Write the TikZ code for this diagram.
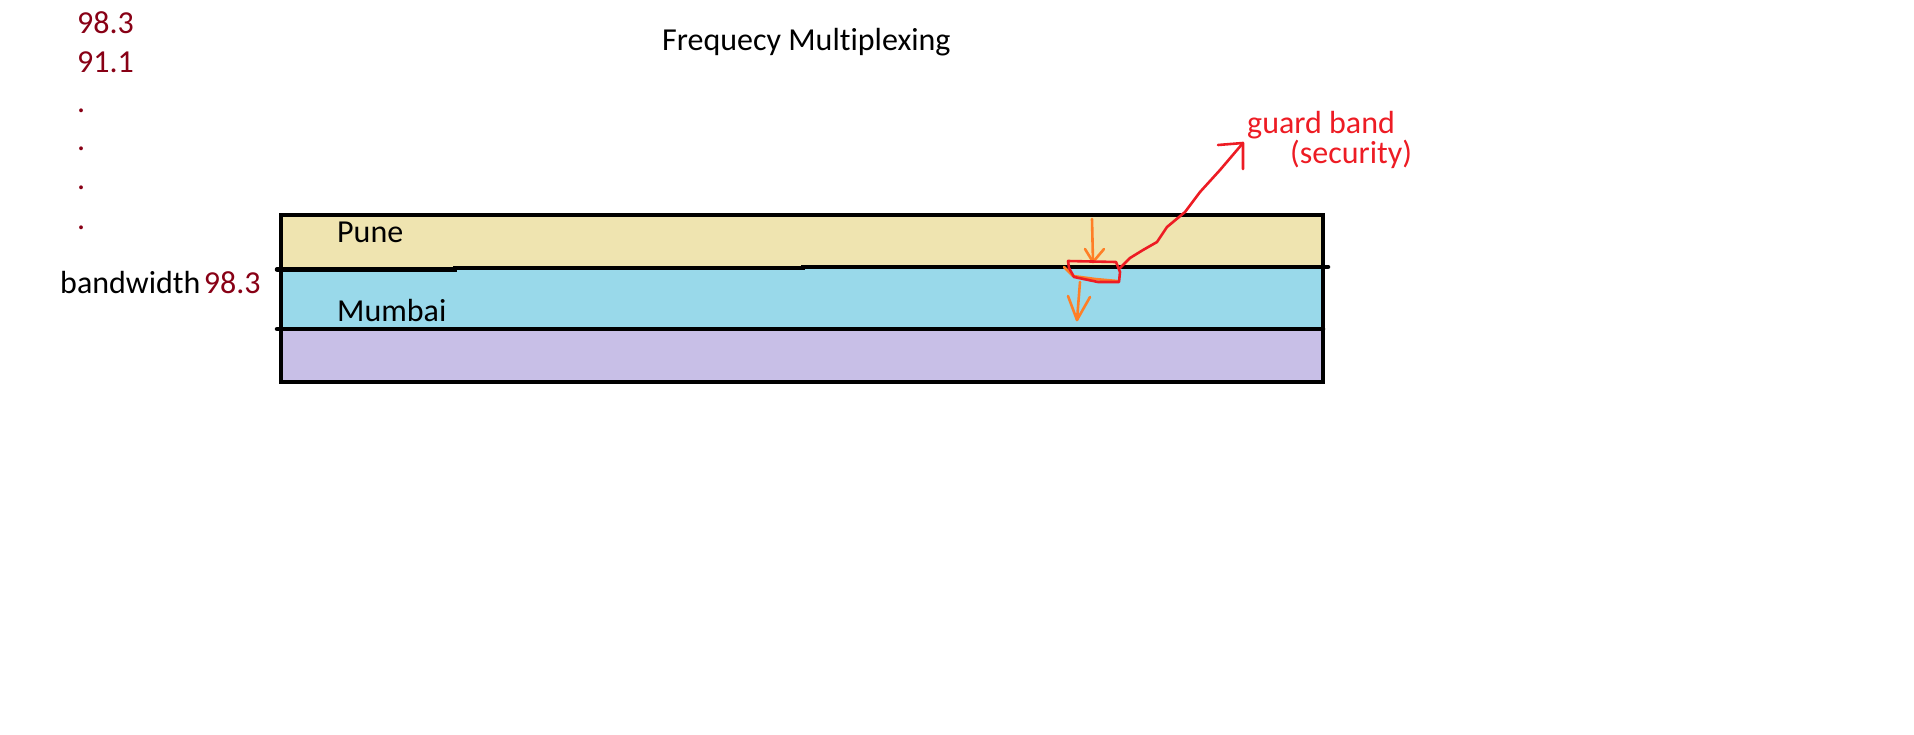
\documentclass[tikz,border=0pt]{standalone}
\usepackage{fontspec}
\setmainfont{Carlito}[Ligatures=NoCommon]
\usetikzlibrary{positioning}
\definecolor{bandtan}{RGB}{239,228,176}
\definecolor{bandblue}{RGB}{153,217,234}
\definecolor{bandlilac}{RGB}{200,191,231}
\definecolor{freqred}{RGB}{136,0,21}
\definecolor{paintred}{RGB}{237,28,36}
\definecolor{paintorange}{RGB}{255,127,39}
\begin{document}
\begin{tikzpicture}[x=1pt,y=-1pt,font=\fontsize{32}{38}\selectfont,inner sep=0pt,
  txt/.style={anchor=base west},
  freq/.style={txt,text=freqred},
  bandline/.style={line width=4.5pt,line cap=round},
  pen/.style={line width=2.6pt,line cap=round,line join=round}]
\useasboundingbox (0,0) rectangle (1914,734);
  \fill[bandtan] (281,215) rectangle (1323,268);
  \fill[bandblue] (281,268) rectangle (1323,329);
  \fill[bandlilac] (281,329) rectangle (1323,382);
  \draw[bandline] (281,215) rectangle (1323,382);
  \draw[bandline] (277,269.5) -- (455,269.5) -- (455,268) -- (803,268) -- (803,267) -- (1328,267);
  \draw[bandline] (277,329) -- (1323,329);
\node[txt] (title) at (662,50) {Frequecy Multiplexing};
\node[freq] (f1) at (77,33) {98.3};
\node[freq] (f2) at (77,72) {91.1};
\foreach \y [count=\i] in {112,150,189,229}
  \node[freq] (d\i) at (77,\y) {.};
\node[txt] (bw) at (60,293) {bandwidth};
\node[freq,base right=3pt of bw] (bwval) {98.3};
\node[txt] (pune) at (337,242) {Pune};
\node[txt] (mumbai) at (337,321) {Mumbai};
\node[txt,text=paintred] (guard) at (1247,133) {guard band};
\node[txt,text=paintred] (sec) at (1290,163) {(security)};
\coordinate (o1top) at (1092,219);
\coordinate (o1tip) at (1093,262);
\coordinate (o2top) at (1080,282);
\coordinate (o2tip) at (1077,320);
\coordinate (gbfoot) at (1120,268);
\coordinate (gbtip) at (1243,143);
  \draw[pen,paintorange] (o1top) -- (o1tip);
  \draw[pen,paintorange] (1085,249) -- (o1tip) -- (1104,249);
  \draw[pen,paintorange] (1064,267) -- (1073,276) -- (1095,279) -- (1117,281);
  \draw[pen,paintorange] (o2top) -- (o2tip);
  \draw[pen,paintorange] (1068,296) -- (o2tip) -- (1090,297);
  \draw[pen,paintred] (1068,261) -- (1116,262) -- (1120,272) -- (1119,282) -- (1098,282) -- (1074,277) -- (1069,268) -- cycle;
  \draw[pen,paintred] (gbfoot) -- (1130,258) -- (1143,250) -- (1157,242) -- (1167,227) -- (1185,212) -- (1200,192) -- (1220,170) -- (gbtip);
  \draw[pen,paintred] (1218,145) -- (gbtip) -- (1243,169);
\end{tikzpicture}
\end{document}
